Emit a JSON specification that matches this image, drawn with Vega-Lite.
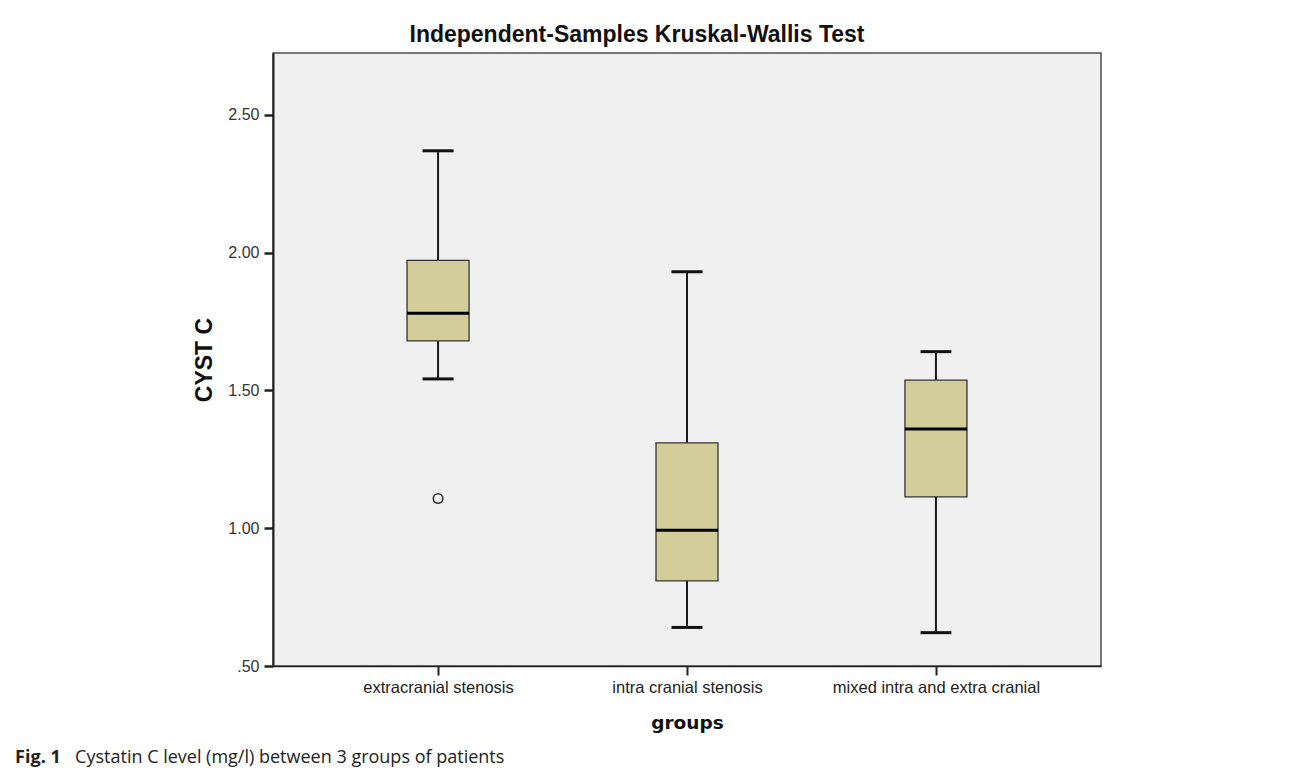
{
  "$schema": "https://vega.github.io/schema/vega-lite/v6.json",
  "padding": {"left": 15, "top": 23, "right": 5, "bottom": 5},
  "background": "white",
  "datasets": {
    "stats": [
      {"group": "extracranial stenosis", "lower": 1.542, "q1": 1.68, "median": 1.78, "q3": 1.972, "upper": 2.37},
      {"group": "intra cranial stenosis", "lower": 0.64, "q1": 0.809, "median": 0.993, "q3": 1.31, "upper": 1.931},
      {"group": "mixed intra and extra cranial", "lower": 0.621, "q1": 1.114, "median": 1.36, "q3": 1.538, "upper": 1.641}
    ],
    "outliers": [
      {"group": "extracranial stenosis", "value": 1.108}
    ]
  },
  "config": {
    "view": {"fill": "#f0f0f0", "stroke": "#4d4d4d", "strokeWidth": 1.5},
    "font": "Liberation Sans"
  },
  "title": {
    "text": "Fig. 1",
    "orient": "bottom",
    "anchor": "start",
    "frame": "bounds",
    "font": "Open Sans",
    "fontSize": 18,
    "fontWeight": "bold",
    "color": "#222",
    "offset": -18,
    "dx": -60
  },
  "vconcat": [
    {
      "title": {
        "text": "Cystatin C level (mg/l) between 3 groups of patients",
        "orient": "bottom",
        "anchor": "start",
        "frame": "bounds",
        "font": "Open Sans",
        "fontSize": 18,
        "fontWeight": "normal",
        "color": "#222",
        "offset": 16,
        "dx": -118
      },
      "vconcat": [
        {
          "title": {
            "text": "Independent-Samples Kruskal-Wallis Test",
            "font": "Liberation Sans",
            "fontSize": 23,
            "fontWeight": "bold",
            "color": "#111",
            "anchor": "middle",
            "frame": "group",
            "dx": -50,
            "offset": -12,
            "baseline": "alphabetic"
          },
          "width": 828,
          "height": 613,
          "encoding": {
            "x": {
              "field": "group",
              "type": "nominal",
              "sort": ["extracranial stenosis", "intra cranial stenosis", "mixed intra and extra cranial"],
              "scale": {"type": "point", "padding": 0.663},
              "axis": {
                "title": "groups",
                "titleFont": "DejaVu Sans",
                "titleFontSize": 18.5,
                "titleFontWeight": "bold",
                "titleColor": "#111",
                "titlePadding": 18,
                "labelAngle": 0,
                "labelLimit": 400,
                "labelFont": "Liberation Sans",
                "labelFontSize": 16.5,
                "labelColor": "#222",
                "labelPadding": 4,
                "tickSize": 9,
                "tickWidth": 2,
                "tickColor": "#222",
                "domainColor": "#222",
                "domainWidth": 1.5
              }
            }
          },
          "layer": [
            {
              "data": {"name": "stats"},
              "mark": {"type": "rule", "color": "#1a1a1a", "strokeWidth": 2},
              "encoding": {
                "y": {
                  "field": "lower",
                  "type": "quantitative",
                  "scale": {"domain": [0.5, 2.725], "nice": false, "zero": false},
                  "axis": {
                    "title": "CYST C",
                    "titleFont": "Liberation Sans",
                    "titleFontSize": 23,
                    "titleFontWeight": "bold",
                    "titleColor": "#111",
                    "titlePadding": 11,
                    "values": [0.5, 1, 1.5, 2, 2.5],
                    "labelExpr": "datum.value == 0.5 ? '.50' : format(datum.value, '.2f')",
                    "labelFont": "Liberation Sans",
                    "labelFontSize": 16,
                    "labelColor": "#333",
                    "labelPadding": 5,
                    "tickSize": 9,
                    "tickWidth": 2.5,
                    "tickColor": "#222",
                    "domainColor": "#222",
                    "domainWidth": 2,
                    "grid": false
                  }
                },
                "y2": {"field": "upper"}
              }
            },
            {
              "data": {"name": "stats"},
              "mark": {"type": "bar", "size": 62, "fill": "#d3ce99", "stroke": "#333333", "strokeWidth": 1.3},
              "encoding": {
                "y": {"field": "q1", "type": "quantitative"},
                "y2": {"field": "q3"}
              }
            },
            {
              "data": {"name": "stats"},
              "mark": {"type": "tick", "size": 62, "thickness": 3, "color": "#000000", "opacity": 1},
              "encoding": {
                "y": {"field": "median", "type": "quantitative"}
              }
            },
            {
              "data": {"name": "stats"},
              "mark": {"type": "tick", "size": 31, "thickness": 3, "color": "#111111", "opacity": 1},
              "encoding": {
                "y": {"field": "lower", "type": "quantitative"}
              }
            },
            {
              "data": {"name": "stats"},
              "mark": {"type": "tick", "size": 31, "thickness": 3, "color": "#111111", "opacity": 1},
              "encoding": {
                "y": {"field": "upper", "type": "quantitative"}
              }
            },
            {
              "data": {"name": "outliers"},
              "mark": {"type": "point", "shape": "circle", "filled": false, "size": 90, "stroke": "#333333", "strokeWidth": 1.6, "opacity": 1},
              "encoding": {
                "y": {"field": "value", "type": "quantitative"}
              }
            }
          ]
        }
      ]
    }
  ]
}
